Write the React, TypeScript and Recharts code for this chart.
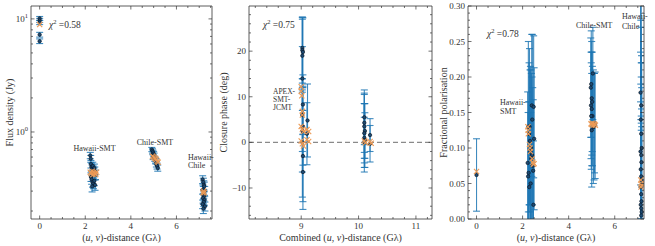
import React from "react";
import { ComposedChart, Scatter, ErrorBar, XAxis, YAxis, ReferenceLine } from "recharts";

const W = 655;
const H = 246;
const TOP = 6;
const BOTTOM = 219;
const GAP = 4;
const FONT = '"Liberation Serif", "DejaVu Serif", serif';
const INK = "#333";
const BAR = "rgba(31,119,180,0.85)";
const ORANGE = "#ec9b57";

// ---- panel 1: flux density (log) ----
const fluxU = [0, 0, 0, 0, 0, 2.22, 2.24, 2.25, 2.27, 2.3, 2.33, 2.35, 2.38, 2.4, 2.42, 2.45, 2.25, 2.28, 2.32, 2.36, 2.4, 2.43, 2.3, 4.92, 4.95, 4.97, 5.0, 5.02, 4.98, 5.05, 5.08, 5.1, 5.12, 5.15, 5.18, 7.15, 7.18, 7.2, 7.22, 7.16, 7.24, 7.19, 7.21, 7.17, 7.23, 7.2, 7.15, 7.25, 7.18];
const fluxV = [10.1, 9.7, 9.3, 7.25, 6.35, 0.62, 0.58, 0.52, 0.49, 0.47, 0.5, 0.46, 0.44, 0.48, 0.45, 0.42, 0.4, 0.38, 0.36, 0.35, 0.37, 0.34, 0.33, 0.7, 0.68, 0.66, 0.64, 0.62, 0.6, 0.58, 0.56, 0.55, 0.52, 0.5, 0.48, 0.38, 0.36, 0.34, 0.33, 0.31, 0.3, 0.28, 0.27, 0.26, 0.25, 0.24, 0.23, 0.22, 0.21];
const fluxErr = [0.4, 0.4, 0.4, 0.35, 0.3, 0.04, 0.04, 0.04, 0.04, 0.04, 0.04, 0.04, 0.04, 0.04, 0.04, 0.04, 0.035, 0.035, 0.035, 0.035, 0.035, 0.035, 0.035, 0.03, 0.03, 0.03, 0.03, 0.03, 0.03, 0.03, 0.03, 0.03, 0.03, 0.03, 0.03, 0.03, 0.03, 0.03, 0.03, 0.03, 0.03, 0.025, 0.025, 0.025, 0.025, 0.02, 0.02, 0.02, 0.02];
const fluxModelU = [0, 2.22, 2.26, 2.3, 2.34, 2.38, 2.42, 2.46, 2.5, 4.95, 5.0, 5.04, 5.08, 5.12, 5.16, 5.2, 7.16, 7.19, 7.22];
const fluxModelV = [8.9, 0.44, 0.43, 0.45, 0.42, 0.44, 0.43, 0.42, 0.44, 0.61, 0.6, 0.59, 0.58, 0.57, 0.55, 0.54, 0.29, 0.3, 0.29];

// ---- panel 2: closure phase ----
const phaseU = [9.02, 9.02, 9.03, 9.02, 9.02, 9.03, 9.02, 9.03, 9.02, 9.02, 9.03, 9.03, 9.11, 9.1, 10.1, 10.1, 10.1, 10.11, 10.1, 10.1, 10.11, 10.1, 10.2, 10.2];
const phaseV = [20.7, 20.2, 19.8, 19.0, 14.0, 8.3, 6.0, 3.5, 2.5, 0.0, -3.0, -6.5, 4.8, 1.9, 5.5, 4.3, 3.5, 2.5, 2.0, 1.0, 0.5, 0.0, 1.6, -0.3];
const phaseErr = [6.8, 7.2, 7.5, 8.0, 7.0, 6.5, 8.0, 8.5, 9.0, 12.0, 10.0, 8.2, 8.0, 6.8, 6.0, 6.5, 7.0, 6.0, 6.5, 7.5, 6.0, 5.5, 3.6, 4.0];
const phaseModelU = [9.0, 9.0, 9.01, 9.02, 9.02, 9.0, 9.02, 9.04, 9.0, 9.02, 9.04, 9.1, 9.13, 9.1, 9.13, 10.1, 10.12, 10.2, 10.22];
const phaseModelV = [12.2, 11.2, 10.2, 6.8, 6.0, 3.5, 2.8, 2.4, 0.3, -0.3, -0.8, 2.8, 2.4, 0.6, 0.2, 0.3, -0.1, 0.2, -0.2];

// ---- panel 3: fractional polarisation ----
const polU = [0, 2.22, 2.24, 2.26, 2.28, 2.3, 2.32, 2.34, 2.36, 2.38, 2.4, 2.42, 2.44, 2.46, 2.48, 2.5, 2.47, 2.35, 2.29, 2.41, 2.25, 4.96, 4.98, 5.0, 5.02, 4.97, 5.0, 5.03, 4.98, 5.05, 5.07, 5.1, 5.12, 5.0, 5.15, 7.12, 7.15, 7.13, 7.15, 7.17, 7.12, 7.15, 7.16, 7.13, 7.15, 7.17, 7.12, 7.15, 7.16, 7.13, 7.15, 7.17, 7.15];
const polV = [0.062, 0.079, 0.06, 0.065, 0.12, 0.13, 0.11, 0.095, 0.1, 0.085, 0.16, 0.14, 0.075, 0.068, 0.158, 0.113, 0.02, 0.05, 0.045, 0.09, 0.13, 0.185, 0.19, 0.17, 0.165, 0.16, 0.155, 0.145, 0.145, 0.205, 0.13, 0.13, 0.135, 0.125, 0.132, 0.178, 0.16, 0.14, 0.12, 0.1, 0.095, 0.09, 0.08, 0.07, 0.06, 0.055, 0.045, 0.035, 0.025, 0.02, 0.015, 0.01, 0.005];
const polErr = [0.051, 0.1, 0.09, 0.1, 0.1, 0.11, 0.1, 0.12, 0.11, 0.12, 0.1, 0.12, 0.11, 0.1, 0.1, 0.1, 0.09, 0.1, 0.12, 0.11, 0.12, 0.07, 0.075, 0.08, 0.07, 0.075, 0.08, 0.07, 0.075, 0.065, 0.08, 0.075, 0.07, 0.08, 0.075, 0.13, 0.16, 0.14, 0.15, 0.12, 0.14, 0.13, 0.15, 0.12, 0.14, 0.13, 0.12, 0.11, 0.13, 0.12, 0.11, 0.12, 0.13];
const polModelU = [0, 2.23, 2.24, 2.25, 2.3, 2.32, 2.34, 2.42, 2.45, 2.47, 2.5, 4.97, 5.0, 5.03, 5.06, 5.1, 5.13, 5.16, 7.13, 7.15, 7.17, 7.14];
const polModelV = [0.067, 0.13, 0.125, 0.12, 0.105, 0.1, 0.095, 0.085, 0.08, 0.077, 0.078, 0.134, 0.133, 0.135, 0.132, 0.134, 0.133, 0.132, 0.055, 0.05, 0.048, 0.045];

// ---- ticks ----
const uvTicks = [0, 0.5, 1, 1.5, 2, 2.5, 3, 3.5, 4, 4.5, 5, 5.5, 6, 6.5, 7, 7.5];
const uvMajors = [0, 2, 4, 6];
const fluxTicks = [0.2, 0.3, 0.4, 0.5, 0.6, 0.7, 0.8, 0.9, 1, 2, 3, 4, 5, 6, 7, 8, 9, 10];
const fluxMajors = [1, 10];
const combTicks = [8.2, 8.4, 8.6, 8.8, 9, 9.2, 9.4, 9.6, 9.8, 10, 10.2, 10.4, 10.6, 10.8, 11, 11.2];
const combMajors = [9, 10, 11];
const phaseTicks = [-16, -14, -12, -10, -8, -6, -4, -2, 0, 2, 4, 6, 8, 10, 12, 14, 16, 18, 20, 22, 24, 26, 28];
const phaseMajors = [-10, 0, 10, 20];
const polTicks = [0, 0.01, 0.02, 0.03, 0.04, 0.05, 0.06, 0.07, 0.08, 0.09, 0.1, 0.11, 0.12, 0.13, 0.14, 0.15, 0.16, 0.17, 0.18, 0.19, 0.2, 0.21, 0.22, 0.23, 0.24, 0.25, 0.26, 0.27, 0.28, 0.29, 0.3];
const polMajors = [0, 0.05, 0.1, 0.15, 0.2, 0.25, 0.3];

const toPoints = (u: number[], v: number[], e?: number[]) =>
  u.map((x, i) => ({ x, y: v[i], err: e ? e[i] : 0 }));

type Side = "bottom" | "top" | "left" | "right";

function makeTick(side: Side, majors: number[], fmt: ((v: number) => React.ReactNode) | null) {
  return function Tick(props: any) {
    const { x, y, payload } = props;
    const v = Number(payload.value);
    const major = majors.some((m) => Math.abs(m - v) < 1e-6);
    const len = major ? 3.5 : 2;
    const ln = { stroke: INK, strokeWidth: 0.7 };
    const txt = { fontSize: 9, fill: INK, fontFamily: FONT };
    if (side === "bottom") {
      const a = y - GAP;
      return (
        <g>
          <line x1={x} x2={x} y1={a} y2={a - len} {...ln} />
          {major && fmt ? <text x={x} y={a + 10} textAnchor="middle" {...txt}>{fmt(v)}</text> : null}
        </g>
      );
    }
    if (side === "top") {
      const a = y + GAP;
      return <line x1={x} x2={x} y1={a} y2={a + len} {...ln} />;
    }
    if (side === "left") {
      const a = x + GAP;
      return (
        <g>
          <line x1={a} x2={a + len} y1={y} y2={y} {...ln} />
          {major && fmt ? <text x={a - 3} y={y + 3} textAnchor="end" {...txt}>{fmt(v)}</text> : null}
        </g>
      );
    }
    const a = x - GAP;
    return <line x1={a} x2={a - len} y1={y} y2={y} {...ln} />;
  };
}

const Dot = (p: any) => (
  <circle cx={p.cx} cy={p.cy} r={1.7} fill="#1d4a73" stroke="#0c1826" strokeWidth={0.7} />
);
const Cross = (p: any) => {
  const s = 2.6;
  return (
    <g stroke={ORANGE} strokeWidth={1.1}>
      <line x1={p.cx - s} y1={p.cy - s} x2={p.cx + s} y2={p.cy + s} />
      <line x1={p.cx - s} y1={p.cy + s} x2={p.cx + s} y2={p.cy - s} />
    </g>
  );
};
const NoMark = () => <g />;

interface PanelProps {
  left: number;
  right: number;
  xDomain: [number, number];
  yDomain: [number, number];
  xTicks: number[];
  xMajors: number[];
  yTicks: number[];
  yMajors: number[];
  yFmt: (v: number) => React.ReactNode;
  logY?: boolean;
  points: { x: number; y: number; err: number }[];
  model: { x: number; y: number; err: number }[];
  zeroLine?: boolean;
}

// axes shared by the data layer and the frame layer, so both use the same scales
function axes(p: PanelProps, frame: boolean) {
  const scale = p.logY ? "log" : "auto";
  const line = frame ? { stroke: INK, strokeWidth: 0.8 } : false;
  return [
    <XAxis key="b" xAxisId="b" dataKey="x" type="number" domain={p.xDomain} allowDataOverflow ticks={p.xTicks}
      interval={0} height={H - BOTTOM} tickSize={0} tickMargin={GAP} tickLine={false} axisLine={line}
      tick={frame ? makeTick("bottom", p.xMajors, (v) => String(v)) : false} />,
    <XAxis key="t" xAxisId="t" orientation="top" dataKey="x" type="number" domain={p.xDomain} allowDataOverflow
      ticks={p.xTicks} interval={0} height={TOP} tickSize={0} tickMargin={GAP} tickLine={false} axisLine={line}
      tick={frame ? makeTick("top", p.xMajors, null) : false} />,
    <YAxis key="l" yAxisId="l" dataKey="y" type="number" scale={scale} domain={p.yDomain} allowDataOverflow
      ticks={p.yTicks} interval={0} width={p.left} tickSize={0} tickMargin={GAP} tickLine={false} axisLine={line}
      tick={frame ? makeTick("left", p.yMajors, p.yFmt) : false} />,
    <YAxis key="r" yAxisId="r" orientation="right" dataKey="y" type="number" scale={scale} domain={p.yDomain}
      allowDataOverflow ticks={p.yTicks} interval={0} width={W - p.right} tickSize={0} tickMargin={GAP}
      tickLine={false} axisLine={line} tick={frame ? makeTick("right", p.yMajors, null) : false} />,
  ];
}

function Panel(p: PanelProps) {
  const margin = { top: 0, right: 0, bottom: 0, left: 0 };
  const clip = `inset(${TOP}px ${W - p.right}px ${H - BOTTOM}px ${p.left}px)`;
  return (
    <>
      <div style={{ position: "absolute", left: 0, top: 0, clipPath: clip }}>
        <ComposedChart width={W} height={H} margin={margin}>
          {axes(p, false)}
          {p.zeroLine ? (
            <ReferenceLine xAxisId="b" yAxisId="l" y={0} stroke="#8a8a8a" strokeWidth={1.3} strokeDasharray="5 3" />
          ) : null}
          <Scatter xAxisId="b" yAxisId="l" data={p.points} shape={NoMark} isAnimationActive={false}>
            <ErrorBar dataKey="err" direction="y" width={3.5} stroke={BAR} strokeWidth={1.1} isAnimationActive={false} />
          </Scatter>
          <Scatter xAxisId="b" yAxisId="l" data={p.points} shape={Dot} isAnimationActive={false} />
          <Scatter xAxisId="b" yAxisId="l" data={p.model} shape={Cross} isAnimationActive={false} />
        </ComposedChart>
      </div>
      <div style={{ position: "absolute", left: 0, top: 0 }}>
        <ComposedChart width={W} height={H} margin={margin}>
          {axes(p, true)}
          <Scatter xAxisId="b" yAxisId="l" data={[]} shape={NoMark} isAnimationActive={false} />
        </ComposedChart>
      </div>
    </>
  );
}

const logFmt = (v: number) => (
  <>
    10<tspan dy={-4} fontSize={6.5}>{Math.round(Math.log10(v))}</tspan>
  </>
);

const Chi = ({ x, y, v }: { x: number; y: number; v: string }) => (
  <text x={x} y={y} fontSize={9.5}>
    <tspan fontStyle="italic">χ</tspan>
    <tspan dy={-4} fontSize={6.5}>2</tspan>
    <tspan dy={4}> ={v}</tspan>
  </text>
);

const UV = () => (
  <>
    (<tspan fontStyle="italic">u</tspan>, <tspan fontStyle="italic">v</tspan>)-distance (Gλ)
  </>
);

function Overlay() {
  const s = { fontSize: 8 };
  return (
    <svg width={W} height={H} style={{ position: "absolute", left: 0, top: 0, pointerEvents: "none" }}
      fontFamily={FONT} fill={INK}>
      <Chi x={49} y={28} v="0.58" />
      <Chi x={263} y={28} v="0.75" />
      <Chi x={487} y={37} v="0.78" />

      <text x={94.5} y={150.5} textAnchor="middle" {...s}>Hawaii-SMT</text>
      <text x={155} y={145} textAnchor="middle" {...s}>Chile-SMT</text>
      <text x={188} y={159.5} {...s}>Hawaii-</text>
      <text x={188} y={168} {...s}>Chile</text>

      <text x={273} y={94} fontSize={7.5}>APEX-</text>
      <text x={273} y={102} fontSize={7.5}>SMT-</text>
      <text x={273} y={110} fontSize={7.5}>JCMT</text>

      <text x={500} y={104.5} {...s}>Hawaii-</text>
      <text x={500} y={114} {...s}>SMT</text>
      <text x={576} y={28} {...s}>Chile-SMT</text>
      <text x={622} y={19} {...s}>Hawaii-</text>
      <text x={622} y={28.5} {...s}>Chile</text>

      <text x={121.5} y={240.5} textAnchor="middle" fontSize={10}><UV /></text>
      <text x={340.5} y={240.5} textAnchor="middle" fontSize={10}>Combined <UV /></text>
      <text x={556} y={240.5} textAnchor="middle" fontSize={10}><UV /></text>

      <text transform="translate(12.5,112.5) rotate(-90)" textAnchor="middle" fontSize={10}>Flux density (Jy)</text>
      <text transform="translate(226.5,112.5) rotate(-90)" textAnchor="middle" fontSize={10}>Closure phase (deg)</text>
      <text transform="translate(446.5,112.5) rotate(-90)" textAnchor="middle" fontSize={10}>Fractional polarisation</text>
    </svg>
  );
}

export default function App() {
  return (
    <div style={{ position: "absolute", left: 0, top: 0, width: W, height: H, background: "#fff", fontFamily: FONT }}>
      <Panel left={31} right={212} xDomain={[-0.38, 7.56]} yDomain={[0.17, 13.0]} logY
        xTicks={uvTicks} xMajors={uvMajors} yTicks={fluxTicks} yMajors={fluxMajors} yFmt={logFmt}
        points={toPoints(fluxU, fluxV, fluxErr)} model={toPoints(fluxModelU, fluxModelV)} />
      <Panel left={249} right={432} xDomain={[8.09, 11.28]} yDomain={[-16.8, 29.9]}
        xTicks={combTicks} xMajors={combMajors} yTicks={phaseTicks} yMajors={phaseMajors}
        yFmt={(v) => (v < 0 ? `\u2212${Math.abs(v)}` : String(v))} zeroLine
        points={toPoints(phaseU, phaseV, phaseErr)} model={toPoints(phaseModelU, phaseModelV)} />
      <Panel left={468} right={644} xDomain={[-0.37, 7.27]} yDomain={[0, 0.3]}
        xTicks={uvTicks.filter((t) => t <= 7)} xMajors={uvMajors} yTicks={polTicks} yMajors={polMajors}
        yFmt={(v) => v.toFixed(2)}
        points={toPoints(polU, polV, polErr)} model={toPoints(polModelU, polModelV)} />
      <Overlay />
    </div>
  );
}
